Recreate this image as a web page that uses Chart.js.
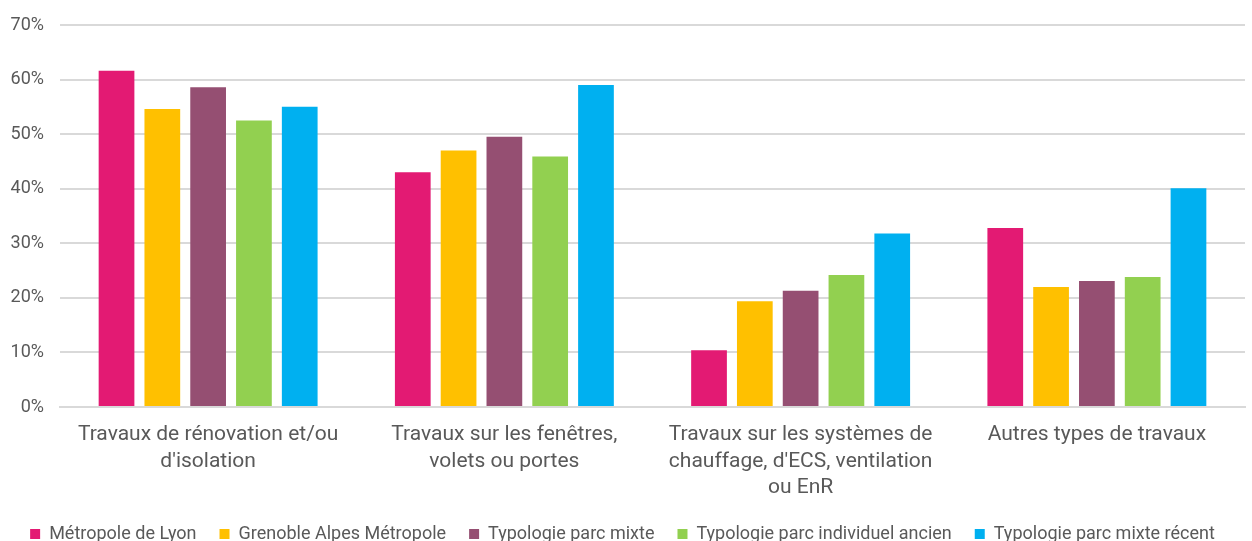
<!DOCTYPE html>
<html>
<head>
<meta charset="utf-8">
<script src="https://cdn.jsdelivr.net/npm/chart.js@4"></script>
<style>
  html, body { margin: 0; padding: 0; background: #fff; }
  #wrap { width: 1252px; height: 541px; }
</style>
</head>
<body>
<div id="wrap"><canvas id="chart"></canvas></div>
<script>
const categories = [
  ['Travaux de rénovation et/ou', "d'isolation"],
  ['Travaux sur les fenêtres,', 'volets ou portes'],
  ['Travaux sur les systèmes de', "chauffage, d'ECS, ventilation", 'ou EnR'],
  ['Autres types de travaux']
];

const seriesNames = [
  'Métropole de Lyon',
  'Grenoble Alpes Métropole',
  'Typologie parc mixte',
  'Typologie parc individuel ancien',
  'Typologie parc mixte récent'
];
const seriesColors = ['#e31a73', '#ffc000', '#954f72', '#92d050', '#00b0f0'];

const lyon = [61.6, 43.0, 10.4, 32.8];
const grenoble = [54.6, 47.0, 19.4, 22.0];
const parcMixte = [58.6, 49.5, 21.3, 23.1];
const parcAncien = [52.5, 45.9, 24.2, 23.8];
const parcRecent = [55.0, 59.0, 31.8, 40.1];

const seriesValues = [lyon, grenoble, parcMixte, parcAncien, parcRecent];

const grey = '#595959';
const gridColor = '#d9d9d9';

new Chart(document.getElementById('chart'), {
  type: 'bar',
  data: {
    labels: categories,
    datasets: seriesNames.map((name, i) => ({
      label: name,
      data: seriesValues[i],
      backgroundColor: seriesColors[i],
      categoryPercentage: 0.773,
      barPercentage: 0.78
    }))
  },
  options: {
    responsive: true,
    maintainAspectRatio: false,
    animation: false,
    layout: { padding: { top: 0, right: 7, left: 0, bottom: -12 } },
    plugins: {
      tooltip: { enabled: false },
      legend: {
        position: 'bottom',
        labels: {
          color: grey,
          font: { family: 'Roboto', size: 18 },
          boxWidth: 10,
          boxHeight: 10,
          padding: 23
        }
      }
    },
    scales: {
      x: {
        afterFit: (scale) => { scale.height = 95; },
        grid: { display: false },
        border: { color: gridColor, width: 2 },
        ticks: {
          color: grey,
          font: { family: 'Roboto', size: 21, lineHeight: 1.25 },
          maxRotation: 0,
          autoSkip: false,
          padding: 7
        }
      },
      y: {
        min: 0,
        max: 70,
        afterFit: (scale) => { scale.width = 60; },
        grid: { color: gridColor, lineWidth: 2, drawTicks: false },
        border: { display: false },
        ticks: {
          stepSize: 10,
          color: grey,
          font: { family: 'Roboto', size: 18, lineHeight: 1 },
          padding: 16,
          callback: (v) => v + '%'
        }
      }
    }
  }
});
</script>
</body>
</html>
